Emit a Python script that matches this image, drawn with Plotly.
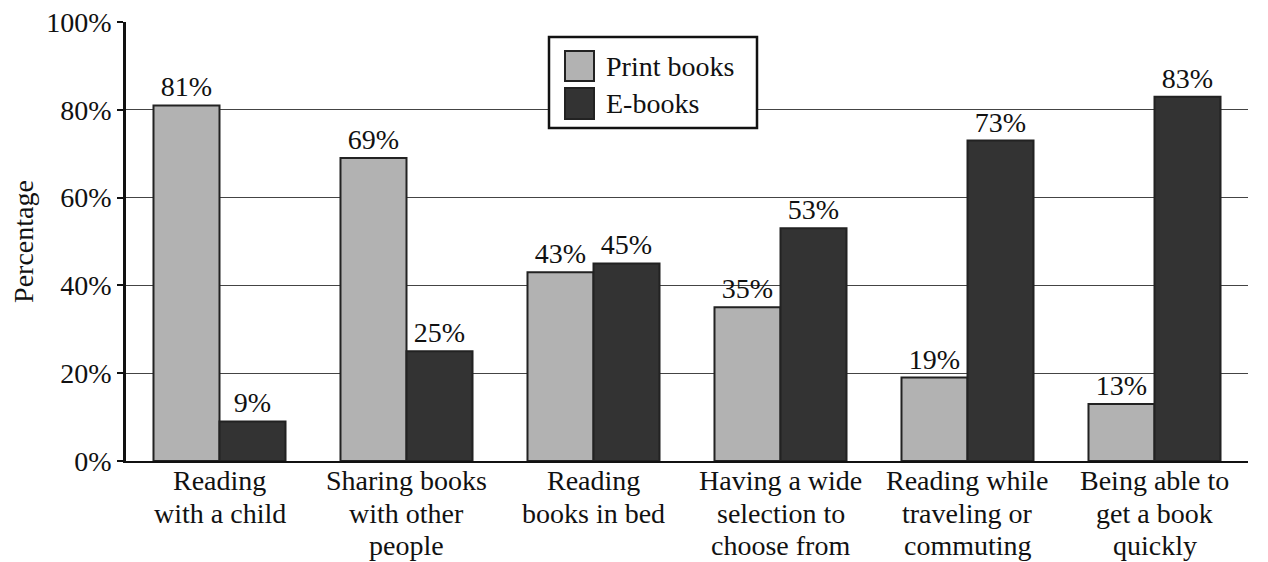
import plotly.graph_objects as go

categories = ["Reading with a child", "Sharing books with other people", "Reading books in bed",
              "Having a wide selection to choose from", "Reading while traveling or commuting",
              "Being able to get a book quickly"]
category_lines = [["Reading", "with a child"], ["Sharing books", "with other", "people"],
                  ["Reading", "books in bed"], ["Having a wide", "selection to", "choose from"],
                  ["Reading while", "traveling or", "commuting"], ["Being able to", "get a book", "quickly"]]
print_books = [81, 69, 43, 35, 19, 13]
e_books = [9, 25, 45, 53, 73, 83]
y_ticks = [0, 20, 40, 60, 80, 100]
y_tick_labels = ["0%", "20%", "40%", "60%", "80%", "100%"]
series_names = ["Print books", "E-books"]
series_colors = ["#b2b2b2", "#333333"]

FONT = "Liberation Serif, Times New Roman, serif"
FS = 28

fig = go.Figure()
for name, vals, col in zip(series_names, [print_books, e_books], series_colors):
    fig.add_trace(go.Bar(
        name=name, x=categories, y=vals,
        marker=dict(color=col, line=dict(color="#222222", width=2)),
        text=[f"{v}%" for v in vals], textposition="outside",
        textfont=dict(family=FONT, size=FS, color="#111"), cliponaxis=False,
        constraintext="none",
    ))

# plot area in page pixels: x 126..1248, y 22..461 (paper coords derived below)
PX0, PX1, PY0, PY1 = 126, 1248, 22, 461
def px(x):
    return (x - PX0) / (PX1 - PX0)
def py(y):
    return (PY1 - y) / (PY1 - PY0)

shapes = [
    dict(type="rect", xref="paper", yref="paper", x0=px(549), x1=px(757), y0=py(128), y1=py(37),
         fillcolor="white", line=dict(color="#111", width=2.5), layer="above"),
    dict(type="rect", xref="paper", yref="paper", x0=px(565), x1=px(594), y0=py(81), y1=py(51),
         fillcolor=series_colors[0], line=dict(color="#222", width=2), layer="above"),
    dict(type="rect", xref="paper", yref="paper", x0=px(565), x1=px(594), y0=py(119), y1=py(88),
         fillcolor=series_colors[1], line=dict(color="#222", width=2), layer="above"),
]
annotations = [
    dict(xref="paper", yref="paper", x=px(604), y=py(66), text=series_names[0], showarrow=False,
         xanchor="left", yanchor="middle", font=dict(family=FONT, size=FS, color="#111")),
    dict(xref="paper", yref="paper", x=px(604), y=py(103), text=series_names[1], showarrow=False,
         xanchor="left", yanchor="middle", font=dict(family=FONT, size=FS, color="#111")),
]
# category labels with the tighter line spacing of the original
line_offsets = [19.5, 52, 84.5]
for cat, lines in zip(categories, category_lines):
    for i, ln in enumerate(lines):
        annotations.append(dict(
            xref="x", yref="y", x=cat, y=0, text=ln, showarrow=False,
            xanchor="center", yanchor="middle", yshift=-line_offsets[i],
            font=dict(family=FONT, size=FS, color="#111"),
        ))

# page has an 8px body margin; figure sized to fit the window
W, H = 1260, 554
fig.update_layout(
    width=W, height=H,
    margin=dict(l=PX0 - 8, r=W - (PX1 - 8), t=PY0 - 8, b=H - (PY1 - 8)),
    paper_bgcolor="white", plot_bgcolor="white",
    barmode="group", bargap=0.294, bargroupgap=0,
    font=dict(family=FONT, size=FS, color="#111"),
    showlegend=False,
    shapes=shapes, annotations=annotations,
    xaxis=dict(
        showline=True, linecolor="#111", linewidth=2,
        ticks="", showticklabels=False,
        showgrid=False, automargin=False,
    ),
    yaxis=dict(
        range=[0, 100], tickvals=y_ticks, ticktext=y_tick_labels,
        showline=True, linecolor="#111", linewidth=2.5,
        ticks="outside", ticklen=6, tickwidth=2, tickcolor="#111",
        showgrid=True, gridcolor="#444", gridwidth=1.3,
        tickfont=dict(family=FONT, size=FS, color="#111"),
        ticklabeloverflow="allow",
        title=dict(text="Percentage", font=dict(family=FONT, size=FS, color="#111"), standoff=22),
        zeroline=False, automargin=False,
    ),
)

fig.write_html("out.html")
